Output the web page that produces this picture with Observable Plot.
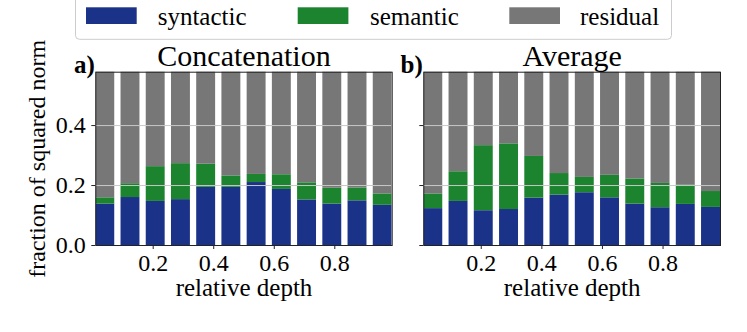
<!DOCTYPE html>
<html><head><meta charset="utf-8">
<script src="https://cdn.jsdelivr.net/npm/d3@7"></script>
<script src="https://cdn.jsdelivr.net/npm/@observablehq/plot@0.6"></script>
<style>
body{margin:0;background:#fff;}
#wrap{position:relative;width:747px;height:332px;overflow:hidden;font-family:"Liberation Serif","Times New Roman",serif;}
#wrap > svg{position:absolute;top:0;}
</style></head><body><div id="wrap"></div>
<script>
// relative depth (bar centers)
const depth = [0.0417, 0.125, 0.2083, 0.2917, 0.375, 0.4583, 0.5417, 0.625, 0.7083, 0.7917, 0.875, 0.9583];
const components = ["syntactic", "semantic", "residual"];
const colors = ["#1b3289", "#1c832f", "#777777"];

// a) Concatenation
const concatSyntactic = [0.138, 0.160, 0.147, 0.153, 0.194, 0.194, 0.210, 0.187, 0.152, 0.138, 0.149, 0.134];
const concatSemantic  = [0.021, 0.046, 0.116, 0.120, 0.077, 0.038, 0.027, 0.049, 0.057, 0.053, 0.043, 0.038];
const concatResidual  = [0.841, 0.794, 0.737, 0.727, 0.729, 0.768, 0.763, 0.764, 0.791, 0.809, 0.808, 0.828];

// b) Average
const avgSyntactic = [0.123, 0.147, 0.116, 0.120, 0.158, 0.168, 0.176, 0.159, 0.138, 0.126, 0.137, 0.127];
const avgSemantic  = [0.049, 0.099, 0.217, 0.219, 0.139, 0.072, 0.051, 0.075, 0.084, 0.081, 0.065, 0.053];
const avgResidual  = [0.828, 0.754, 0.667, 0.661, 0.703, 0.760, 0.773, 0.766, 0.778, 0.793, 0.798, 0.820];

const yTicks = [0, 0.2, 0.4];
const xTicks = [0.2, 0.4, 0.6, 0.8];
const panelTitles = ["Concatenation", "Average"];
const panelTags = ["a)", "b)"];
const xLabel = "relative depth";
const yLabel = "fraction of squared norm";

function rowsOf(syn, sem, res) {
  const rows = [];
  depth.forEach((d, i) => {
    rows.push({depth: d, component: "syntactic", value: syn[i]});
    rows.push({depth: d, component: "semantic", value: sem[i]});
    rows.push({depth: d, component: "residual", value: res[i]});
  });
  return rows;
}

const FONT = "'Liberation Serif', 'Times New Roman', serif";
const half = 1 / 24;
function panel(title, tag, rows, o) {
  return Plot.plot({
    width: o.width, height: 332,
    marginLeft: o.ml, marginRight: o.mr, marginTop: 71.7, marginBottom: 87,
    x: {domain: [0.0104, 0.9896], axis: null},
    y: {domain: [0, 0.578], axis: null},
    color: {domain: components, range: colors},
    style: {background: "transparent", fontFamily: FONT, fontSize: "24px", color: "#000", maxWidth: "none", overflow: "visible"},
    marks: [
      Plot.rectY(rows, {x1: d => d.depth - half, x2: d => d.depth + half, y: "value", fill: "component", insetLeft: 3.15, insetRight: 3.15, clip: true}),
      Plot.gridY(yTicks.slice(1), {stroke: "#c8c8c8", strokeOpacity: 1, strokeWidth: 1}),
      Plot.frame({stroke: "#222", strokeWidth: 1}),
      Plot.axisX(xTicks, {tickSize: 4, tickPadding: 4, tickFormat: d3.format(".1f"), label: null, fontSize: 24, stroke: "#222"}),
      Plot.axisY(yTicks, {tickSize: 4, tickPadding: 6, tickFormat: o.showY ? d3.format(".1f") : () => "", label: null, fontSize: 24, stroke: "#222"}),
      Plot.text([title], {frameAnchor: "top", dy: -16.3, lineAnchor: "middle", fontSize: 30}),
      Plot.text([tag], {frameAnchor: "top-left", textAnchor: "end", dx: -1, dy: -7.7, lineAnchor: "middle", fontWeight: "bold", fontSize: 25}),
      Plot.text([xLabel], {frameAnchor: "bottom", dy: 42, lineAnchor: "middle", fontSize: 25}),
      o.showY ? Plot.text([yLabel], {frameAnchor: "left", textAnchor: "middle", rotate: -90, dx: -58.3, lineAnchor: "middle", fontSize: 24}) : null
    ]
  });
}

const wrap = document.getElementById("wrap");
const p1 = panel(panelTitles[0], panelTags[0], rowsOf(concatSyntactic, concatSemantic, concatResidual), {width: 400, ml: 95.3, mr: 8.3, showY: true});
p1.style.left = "0px";
wrap.appendChild(p1);
const p2 = panel(panelTitles[1], panelTags[1], rowsOf(avgSyntactic, avgSemantic, avgResidual), {width: 357, ml: 33.3, mr: 27, showY: false});
p2.style.left = "390px";
wrap.appendChild(p2);

// legend
const legendX = [86, 297.7, 509.3];
const legendTextX = [157.7, 370, 580];
const lg = d3.select(wrap).append("svg").attr("width", 747).attr("height", 45).style("left", "0px");
lg.append("rect").attr("x", 75.5).attr("y", -10).attr("width", 596).attr("height", 49.3)
  .attr("rx", 4).attr("fill", "white").attr("stroke", "#cccccc");
components.forEach((c, i) => {
  lg.append("rect").attr("x", legendX[i]).attr("y", 7.3).attr("width", 50.7).attr("height", 16.7).attr("fill", colors[i]);
  lg.append("text").attr("x", legendTextX[i]).attr("y", 25).attr("font-size", 25)
    .attr("font-family", FONT).attr("fill", "#000").text(c);
});
</script></body></html>
